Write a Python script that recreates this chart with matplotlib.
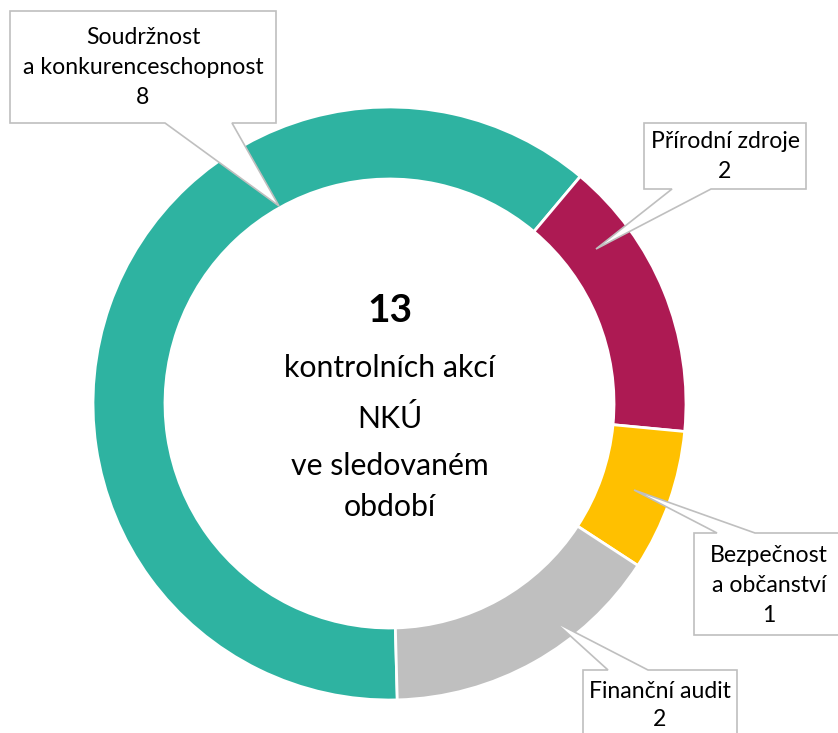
import matplotlib
matplotlib.use("Agg")
import matplotlib.pyplot as plt
from matplotlib.patches import Polygon

# ---- data ----
categories = ["Soudržnost\na konkurenceschopnost", "Přírodní zdroje",
              "Bezpečnost\na občanství", "Finanční audit"]
values = [8, 2, 1, 2]
colors = ["#2EB3A1", "#AD1A53", "#FFC000", "#BFBFBF"]
total_label = "13"
center_lines = ["kontrolních akcí", "NKÚ", "ve sledovaném", "období"]

plt.rcParams['font.family'] = ['Lato', 'DejaVu Sans']

W, H = 838, 733
fig = plt.figure(figsize=(W / 100, H / 100), dpi=100)
ax = fig.add_axes([0, 0, 1, 1])

cx, cy, R, ring = 389.5, 403.5, 296.5, 72
# y axis inverted -> counterclock in data = clockwise on screen
ax.pie(values, colors=colors, center=(cx, cy), radius=R,
       startangle=88.5, counterclock=True,
       wedgeprops=dict(width=ring, edgecolor="white", linewidth=2))
ax.set_xlim(0, W)
ax.set_ylim(H, 0)
ax.set_aspect("equal")
ax.axis("off")

# center text
ax.text(cx, 311, total_label, ha="center", va="center", fontsize=28,
        fontweight="bold", color="black")
for txt, y in zip(center_lines, [368, 418, 466, 507]):
    ax.text(cx, y, txt, ha="center", va="center", fontsize=21.8, color="black")

# callouts: box (x0, y0, x1, y1), pointer (edge, base_a, base_b, tip)
callouts = [
    ((10, 11, 276, 123), ("bottom", 165, 232, (279, 206)), [38, 68, 98]),
    ((644, 123, 806, 189), ("bottom", 672, 711, (596, 249)), [141, 171]),
    ((694, 533, 846, 635), ("top", 717, 755, (634, 490)), [556, 586, 616]),
    ((583, 670, 737, 745), ("top", 608, 648, (555, 622)), [691, 720]),
]
for (box, ptr, ys), cat, val in zip(callouts, categories, values):
    x0, y0, x1, y1 = box
    edge, a, b, tip = ptr
    if edge == "bottom":
        pts = [(x0, y0), (x1, y0), (x1, y1), (b, y1), tip, (a, y1), (x0, y1)]
    else:
        pts = [(x0, y0), (a, y0), tip, (b, y0), (x1, y0), (x1, y1), (x0, y1)]
    ax.add_patch(Polygon(pts, closed=True, facecolor="white",
                         edgecolor="#BFBFBF", linewidth=1.2, zorder=5))
    lines = cat.split("\n") + [str(val)]
    xc = (x0 + x1) / 2
    if x1 > W:
        xc = 769
    for t, y in zip(lines, ys):
        ax.text(xc, y, t, ha="center", va="center", fontsize=16.6,
                color="black", zorder=6)

fig.savefig("out.png", dpi=100)
